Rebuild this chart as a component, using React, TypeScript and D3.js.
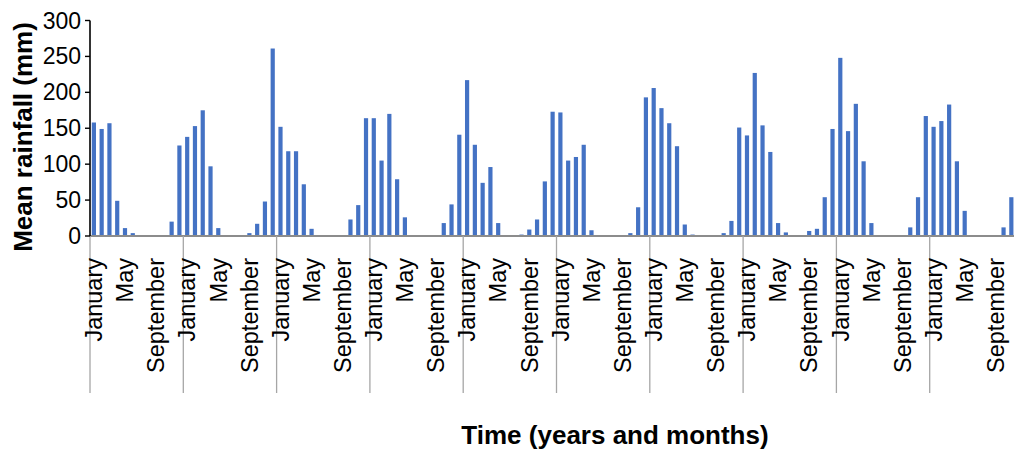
import React from "react";
import * as d3 from "d3";

const monthNames = ["January","February","March","April","May","June","July","August","September","October","November","December"];
const yearCount = 10;
const labelledMonths = ["January", "May", "September"];
const yTicks = [0, 50, 100, 150, 200, 250, 300];

const year1 = [158, 149, 157, 49, 11, 4, 0, 0, 0, 0, 20, 126];
const year2 = [138, 153, 175, 97, 11, 0, 0, 0, 4, 17, 48, 261];
const year3 = [152, 118, 118, 72, 10, 0, 0, 0, 0, 23, 43, 164];
const year4 = [164, 105, 170, 79, 26, 0, 0, 0, 0, 18, 44, 141];
const year5 = [217, 127, 74, 96, 18, 0, 0, 2, 9, 23, 76, 173];
const year6 = [172, 105, 110, 127, 8, 0, 0, 0, 0, 4, 40, 193];
const year7 = [206, 178, 157, 125, 16, 2, 0, 0, 0, 4, 21, 151];
const year8 = [140, 227, 154, 117, 18, 5, 0, 0, 7, 10, 54, 149];
const year9 = [248, 146, 184, 104, 18, 0, 0, 0, 0, 12, 54, 167];
const year10 = [152, 160, 183, 104, 35, 0, 0, 1, 0, 12, 54, 160];

const rainfall = [year1, year2, year3, year4, year5, year6, year7, year8, year9, year10];

const W = 1014;
const H = 449;
const left = 90;
const right = 1023;
const top = 20.5;
const bottom = 236;
const FONT = "'Liberation Sans', Arial, sans-serif";

export default function App() {
  const data = rainfall.flatMap((yr, yi) =>
    yr.map((v, mi) => ({ key: `${yi}-${mi}`, year: yi, month: monthNames[mi], value: v }))
  );
  const x = d3.scaleBand<string>()
    .domain(data.map((d) => d.key))
    .range([left, right])
    .paddingInner(0.46)
    .paddingOuter(0.23);
  const y = d3.scaleLinear().domain([0, 300]).range([bottom, top]);
  const step = x.step();
  const yearBounds = d3.range(yearCount + 1).map((k) => left + k * 12 * step);

  return (
    <div style={{ position: "absolute", left: 0, top: 0 }}>
      <svg width={W} height={H} style={{ display: "block", overflow: "hidden" }}>
        <rect x={0} y={0} width={W} height={H} fill="#fff" />
        {data.map((d) => (
          <rect
            key={d.key}
            x={x(d.key)}
            y={y(d.value)}
            width={x.bandwidth()}
            height={bottom - y(d.value)}
            fill="#4472C4"
          />
        ))}
        {/* x axis */}
        <line x1={left} x2={right} y1={bottom} y2={bottom} stroke="#8c8c8c" strokeWidth={2} />
        {yearBounds.map((bx, i) => (
          <line key={i} x1={bx} x2={bx} y1={bottom} y2={393} stroke="#a6a6a6" strokeWidth={1.3} />
        ))}
        {data
          .filter((d) => labelledMonths.includes(d.month))
          .map((d) => {
            const cx = (x(d.key) as number) + x.bandwidth() / 2;
            return (
              <text
                key={"l" + d.key}
                transform={`translate(${cx + 8.3},258) rotate(-90)`}
                textAnchor="end"
                fontFamily={FONT}
                fontSize={23.5}
                fill="#000"
              >
                {d.month}
              </text>
            );
          })}
        {/* y axis */}
        <line x1={left} x2={left} y1={top} y2={bottom} stroke="#000" strokeWidth={1.6} />
        {yTicks.map((t) => (
          <g key={t}>
            <line x1={left - 5} x2={left} y1={y(t)} y2={y(t)} stroke="#000" strokeWidth={1.4} />
            <text
              x={81}
              y={y(t)}
              dy="0.35em"
              textAnchor="end"
              fontFamily={FONT}
              fontSize={23}
              fill="#000"
            >
              {t}
            </text>
          </g>
        ))}
        <text
          transform={`translate(32,137) rotate(-90)`}
          textAnchor="middle"
          fontFamily={FONT}
          fontWeight="bold"
          fontSize={26}
          fill="#000"
        >
          Mean rainfall (mm)
        </text>
        <text
          x={615}
          y={443.5}
          textAnchor="middle"
          fontFamily={FONT}
          fontWeight="bold"
          fontSize={26}
          fill="#000"
        >
          Time (years and months)
        </text>
      </svg>
    </div>
  );
}
